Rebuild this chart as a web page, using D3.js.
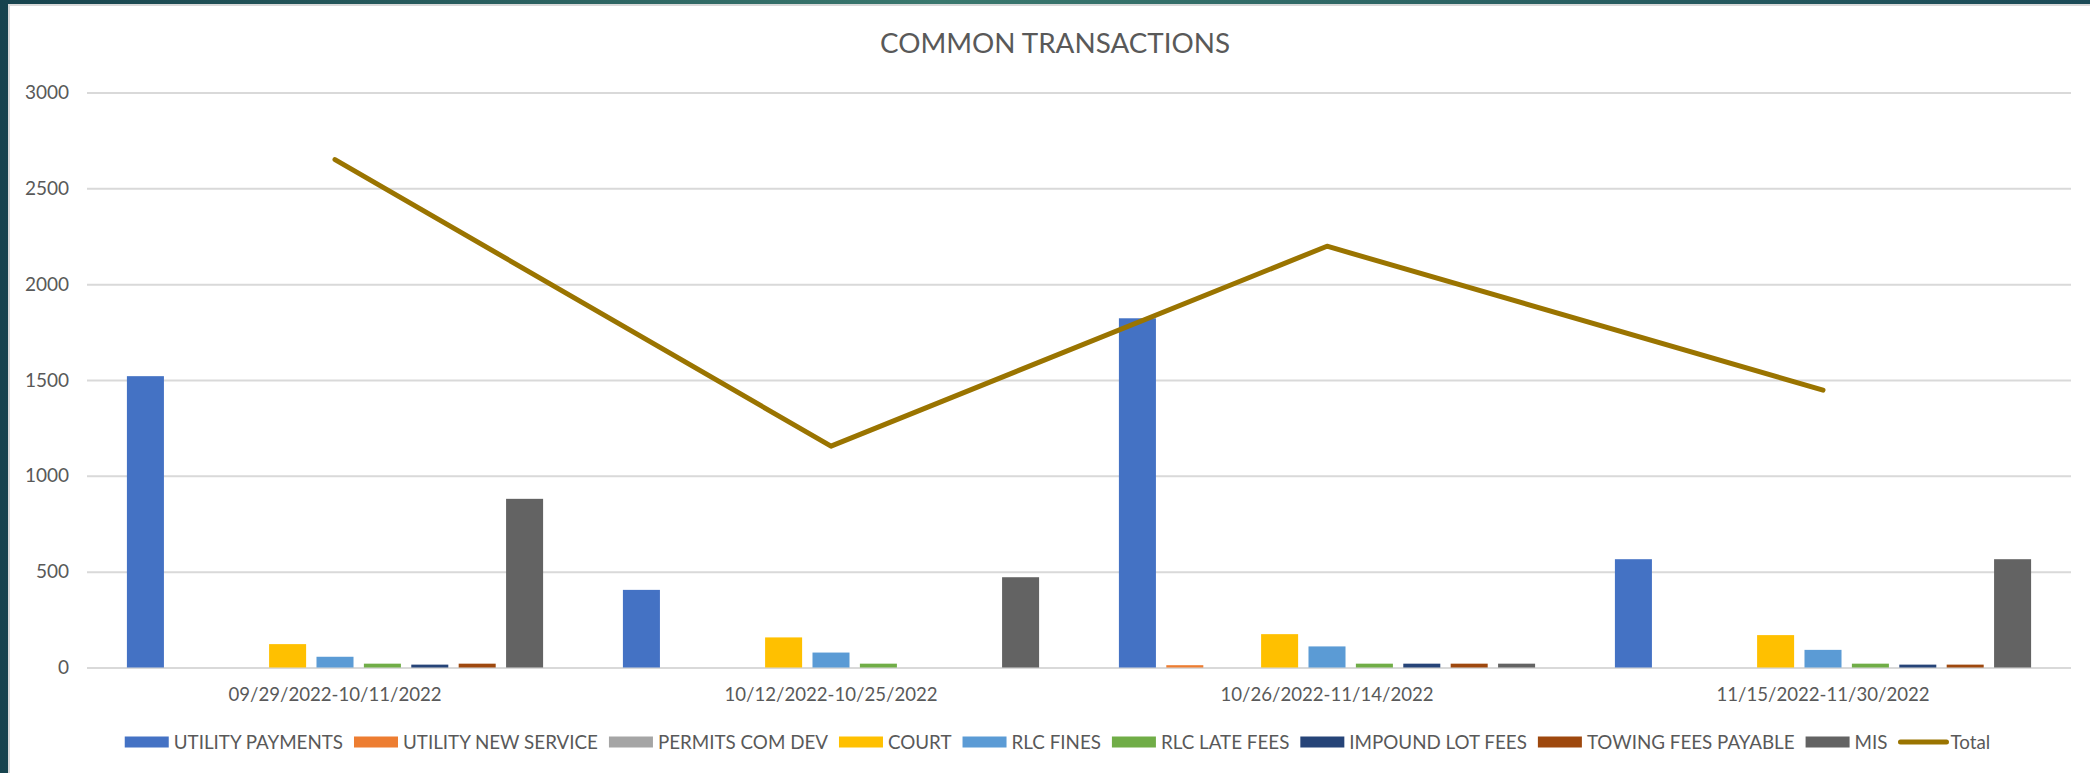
<!DOCTYPE html>
<html>
<head>
<meta charset="utf-8">
<script src="https://cdn.jsdelivr.net/npm/d3@7/dist/d3.min.js"></script>
<style>
  html, body { margin: 0; padding: 0; background: #ffffff; }
  svg { display: block; }
  text { font-family: Lato, "Open Sans", sans-serif; fill: #595959; }
</style>
</head>
<body>
<svg id="chart" width="2090" height="773"></svg>
<script>
// ---------------- data ----------------
const title = "COMMON TRANSACTIONS";
const categories = [
  "09/29/2022-10/11/2022",
  "10/12/2022-10/25/2022",
  "10/26/2022-11/14/2022",
  "11/15/2022-11/30/2022"
];
const seriesNames = [
  "UTILITY PAYMENTS", "UTILITY NEW SERVICE", "PERMITS COM DEV", "COURT",
  "RLC FINES", "RLC LATE FEES", "IMPOUND LOT FEES", "TOWING FEES PAYABLE", "MIS"
];
const utilityPayments   = [1520, 405, 1822, 565];
const utilityNewService = [0, 0, 12, 0];
const permitsComDev     = [0, 0, 0, 0];
const court             = [122, 157, 174, 169];
const rlcFines          = [56, 78, 110, 92];
const rlcLateFees       = [20, 20, 20, 20];
const impoundLotFees    = [15, 0, 20, 15];
const towingFeesPayable = [20, 0, 20, 15];
const mis               = [880, 471, 20, 565];
const totalName = "Total";
const total             = [2650, 1155, 2198, 1447];
const yTicks = [0, 500, 1000, 1500, 2000, 2500, 3000];

const seriesValues = [utilityPayments, utilityNewService, permitsComDev, court,
  rlcFines, rlcLateFees, impoundLotFees, towingFeesPayable, mis];
const colors = ["#4472C4", "#ED7D31", "#A5A5A5", "#FFC000", "#5B9BD5",
  "#70AD47", "#264478", "#9E480E", "#636363"];
const totalColor = "#9A7400";

// ---------------- layout ----------------
const W = 2090, H = 773;
const plot = { left: 87, right: 2071, top: 92.5, bottom: 667.5 };
const svg = d3.select("#chart");

// frame background (teal slide edge)
const defs = svg.append("defs");
const grad = defs.append("linearGradient").attr("id", "bg").attr("x1", "0").attr("x2", "1").attr("y1", "0").attr("y2", "0");
grad.append("stop").attr("offset", "0").attr("stop-color", "#17434e");
grad.append("stop").attr("offset", "0.45").attr("stop-color", "#3a786e");
grad.append("stop").attr("offset", "1").attr("stop-color", "#1b4a57");
svg.append("rect").attr("x", 0).attr("y", 0).attr("width", W).attr("height", H).attr("fill", "url(#bg)");
svg.append("rect").attr("x", 8).attr("y", 4).attr("width", W - 8).attr("height", H - 4).attr("fill", "#d9d9d9");
svg.append("rect").attr("x", 10).attr("y", 6).attr("width", W - 10).attr("height", H - 6).attr("fill", "#ffffff");

// scales
const x0 = d3.scaleBand().domain(categories).range([plot.left, plot.right]).paddingInner(0).paddingOuter(0);
const x1 = d3.scaleBand().domain(seriesNames).range([0, x0.bandwidth()]).paddingInner(0.219).paddingOuter(0.842);
const y = d3.scaleLinear().domain([0, 3000]).range([plot.bottom, plot.top]);

// gridlines + y axis
const yAxis = d3.axisLeft(y).tickValues(yTicks).tickSize(-(plot.right - plot.left)).tickPadding(18).tickFormat(d3.format("d"));
const gy = svg.append("g").attr("transform", `translate(${plot.left},0)`).call(yAxis);
gy.select(".domain").remove();
gy.selectAll(".tick line").attr("stroke", "#d9d9d9").attr("stroke-width", 2);
gy.selectAll(".tick text").attr("font-size", 19).attr("fill", "#595959").style("font-family", "Lato");

// bars
const barData = [];
categories.forEach((c, ci) => {
  seriesNames.forEach((s, si) => barData.push({ c, s, si, v: seriesValues[si][ci] }));
});
svg.append("g").selectAll("rect").data(barData).join("rect")
  .attr("x", d => x0(d.c) + x1(d.s))
  .attr("y", d => y(d.v))
  .attr("width", x1.bandwidth())
  .attr("height", d => y(0) - y(d.v))
  .attr("fill", d => colors[d.si]);

// total line
const line = d3.line().x((d, i) => x0(categories[i]) + x0.bandwidth() / 2).y(d => y(d));
svg.append("path").datum(total).attr("d", line)
  .attr("fill", "none").attr("stroke", totalColor).attr("stroke-width", 5)
  .attr("stroke-linecap", "round").attr("stroke-linejoin", "round");

// x axis labels
const xAxis = d3.axisBottom(x0).tickSize(0).tickPadding(0);
const gx = svg.append("g").attr("transform", `translate(0,${plot.bottom})`).call(xAxis);
gx.select(".domain").remove();
gx.selectAll(".tick text").attr("font-size", 18.6).attr("fill", "#595959")
  .attr("y", 27).attr("dy", "0.35em").style("font-family", "Lato");

// title
svg.append("text").attr("x", 1055).attr("y", 43).attr("dy", "0.35em")
  .attr("text-anchor", "middle").attr("font-size", 27.8).attr("fill", "#595959").text(title);

// legend
const legendItems = seriesNames.map((s, i) => ({ name: s, color: colors[i], type: "bar" }))
  .concat([{ name: totalName, color: totalColor, type: "line" }]);
const lg = svg.append("g");
const legendY = 742;
const swW = 44, swH = 11, swGap = 5, itemGap = 11;
let cx = 0;
const items = lg.selectAll("g").data(legendItems).join("g");
items.each(function (d) {
  const g = d3.select(this);
  const t = g.append("text").attr("font-size", 18.8).attr("dy", "0.35em").attr("y", legendY).text(d.name);
  d.tw = t.node().getComputedTextLength();
});
items.each(function (d, i) {
  const g = d3.select(this);
  const sw = d.type === "line" ? 50 : swW;
  if (d.type === "bar") {
    g.append("rect").attr("x", cx).attr("y", legendY - swH / 2).attr("width", sw).attr("height", swH).attr("fill", d.color);
  } else {
    g.append("line").attr("x1", cx + 2).attr("x2", cx + sw - 2).attr("y1", legendY).attr("y2", legendY)
      .attr("stroke", d.color).attr("stroke-width", 5).attr("stroke-linecap", "round");
  }
  g.select("text").attr("x", cx + sw + (d.type === "line" ? 2 : swGap));
  cx += sw + (d.type === "line" ? 2 : swGap) + d.tw + itemGap;
});
const legendWidth = cx - itemGap;
lg.attr("transform", `translate(${1057.5 - legendWidth / 2},0)`);
</script>
</body>
</html>
